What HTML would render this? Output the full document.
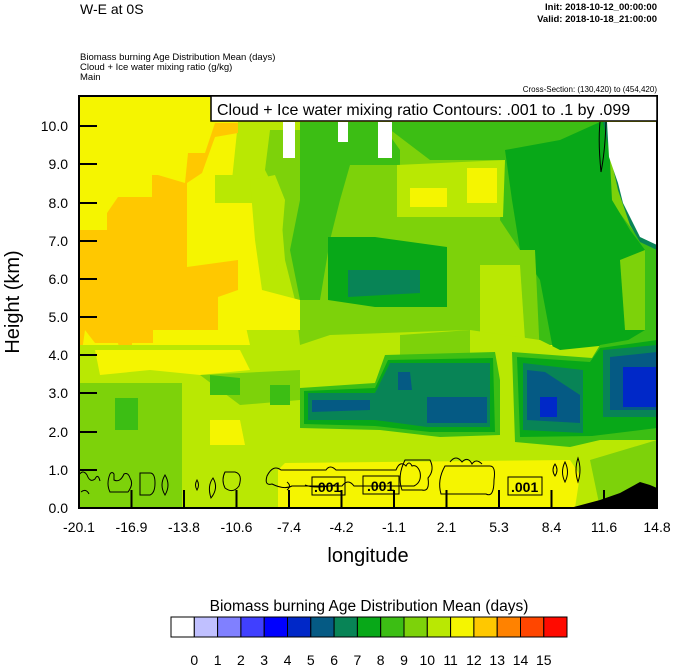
<!DOCTYPE html>
<html><head><meta charset="utf-8"><style>
body{margin:0;background:#fff;}
svg{display:block;font-family:"Liberation Sans",sans-serif;}
</style></head><body>
<svg width="674" height="667" viewBox="0 0 674 667" xmlns="http://www.w3.org/2000/svg">
<defs><clipPath id="pc"><rect x="79" y="96" width="578" height="412"/></clipPath></defs>
<text x="80" y="14" font-size="14">W-E at 0S</text>
<text x="657" y="10" font-size="9.5" text-anchor="end" font-weight="bold">Init: 2018-10-12_00:00:00</text>
<text x="657" y="22" font-size="9.5" text-anchor="end" font-weight="bold">Valid: 2018-10-18_21:00:00</text>
<text x="80" y="60" font-size="9.5">Biomass burning Age Distribution Mean    (days)</text>
<text x="80" y="70" font-size="9.5">Cloud + Ice water mixing ratio    (g/kg)</text>
<text x="80" y="80" font-size="9.5">Main</text>
<text x="657" y="92" font-size="8" text-anchor="end">Cross-Section: (130,420) to (454,420)</text>

<g clip-path="url(#pc)">
<rect x="79" y="96" width="578" height="412" fill="#f5f500"/>
<polygon fill="#b9e803" points="238,122 300,122 300,300 330,330 330,345 250,345 240,300 230,250 232,180" />
<polygon fill="#b9e803" points="215,175 235,175 235,230 215,230"/>
<polygon fill="#7dd20a" points="270,130 657,130 657,345 300,345 295,300 285,260 280,200 265,170"/>
<polygon fill="#f5f500" points="190,203 255,203 265,240 262,290 300,300 300,330 190,330"/>
<polygon fill="#b9e803" points="250,180 275,175 285,200 280,260 262,290 255,240"/>
<polygon fill="#ffc800" points="79,230 107,230 107,213 118,197 152,197 152,175 158,175 185,183 188,153 205,153 215,123 238,123 238,133 215,137 202,173 187,183 187,267 238,260 238,290 218,297 218,330 153,330 153,343 132,343 132,360 122,360 118,343 95,343 85,330 79,373"/>
<polygon fill="#3cbe14" points="300,122 380,122 400,150 400,165 350,165 340,200 330,240 320,300 300,300 290,250 300,200"/>
<polygon fill="#3cbe14" points="380,122 600,122 610,200 640,240 657,245 657,345 540,345 520,250 500,220 505,160 430,160"/>
<polygon fill="#b9e803" points="397,165 505,160 503,217 397,217"/>
<polygon fill="#f5f500" points="410,188 447,188 447,207 410,207"/>
<polygon fill="#f5f500" points="467,168 497,168 497,203 467,203"/>
<polygon fill="#08a818" points="505,150 560,140 600,122 608,122 612,200 630,230 645,250 645,330 620,345 600,390 570,420 555,360 540,280 520,250 512,200"/>
<polygon fill="#7dd20a" points="470,250 535,250 540,357 470,357"/>
<polygon fill="#b9e803" points="480,265 520,265 525,340 480,340"/>
<polygon fill="#7dd20a" points="620,260 645,250 645,330 625,330"/>
<polygon fill="#08a818" points="328,237 375,237 447,247 447,307 375,307 328,300"/>
<polygon fill="#088456" points="348,270 420,270 420,293 348,297"/>
<polygon fill="#ffffff" points="283,122 295,122 295,158 283,158"/>
<polygon fill="#ffffff" points="338,122 348,122 348,142 338,142"/>
<polygon fill="#ffffff" points="378,122 392,122 392,158 378,158"/>
<polygon fill="#088456" points="603,122 657,122 657,250 640,242 630,225 618,190"/>
<polygon fill="#ffffff" points="607,122 657,122 657,245 640,237 633,223 628,213 623,203 618,183 609,157"/>
<!-- lower band -->
<polygon fill="#b9e803" points="79,345 300,345 330,335 470,330 540,340 560,350 657,340 657,508 79,508"/>
<polygon fill="#7dd20a" points="400,335 470,330 470,360 400,360"/>
<polygon fill="#f5f500" points="95,350 240,350 250,370 200,375 150,370 100,375"/>
<polygon fill="#7dd20a" points="79,383 182,383 182,508 79,508"/>
<polygon fill="#7dd20a" points="200,375 300,370 300,400 240,405"/>
<polygon fill="#3cbe14" points="115,398 138,398 138,430 115,430"/>
<polygon fill="#3cbe14" points="210,375 240,378 240,395 210,395"/>
<polygon fill="#3cbe14" points="270,385 290,385 290,405 270,405"/>
<polygon fill="#f5f500" points="210,420 240,420 245,445 210,445"/>
<!-- blobs -->
<polygon fill="#3cbe14" points="300,388 375,383 385,355 495,352 500,380 500,435 440,437 380,430 300,428"/>
<polygon fill="#08a818" points="304,391 375,388 388,360 493,358 495,432 430,432 375,426 304,424"/>
<polygon fill="#088456" points="308,393 375,393 390,363 490,363 490,427 427,427 375,420 308,420"/>
<polygon fill="#055a84" points="312,400 370,400 370,410 312,412"/>
<polygon fill="#055a84" points="398,372 410,372 412,390 398,390"/>
<polygon fill="#055a84" points="427,397 487,397 487,423 427,423"/>
<polygon fill="#3cbe14" points="512,352 592,358 600,345 657,335 657,440 600,440 570,447 515,442"/>
<polygon fill="#08a818" points="517,357 590,362 600,348 657,340 657,428 592,436 520,437"/>
<polygon fill="#088456" points="523,363 583,370 583,433 523,430"/>
<polygon fill="#055a84" points="527,370 545,372 580,395 580,423 527,420"/>
<polygon fill="#0028c8" points="540,397 557,397 557,417 540,417"/>
<polygon fill="#088456" points="603,350 657,345 657,417 603,417"/>
<polygon fill="#055a84" points="610,357 657,352 657,410 610,410"/>
<polygon fill="#0028c8" points="623,367 657,367 657,407 623,407"/>
<!-- bottom -->
<polygon fill="#f5f500" points="278,470 285,463 570,460 580,475 575,508 278,508"/>
<polygon fill="#7dd20a" points="590,460 657,440 657,508 600,508"/>
<polygon fill="#000" points="570,508 600,500 620,493 640,482 650,485 657,488 657,508"/>
<g fill="none" stroke="#000" stroke-width="1">
<path d="M79,475 q4,-6 8,0 q3,8 8,4 q3,-6 5,2 M81,492 q5,-4 8,2"/>
<path d="M110,474 q2,-3 4,0 v6 q6,3 10,-6 q4,-2 6,4 q4,6 -2,14 h-18 q-4,-8 0,-18z"/>
<path d="M140,473 h10 q5,0 5,10 q0,10 -5,12 h-10z"/>
<path d="M165,475 q6,10 0,20 q-6,-10 0,-20z"/>
<path d="M197,480 q3,5 0,10 q-3,-5 0,-10z M213,478 q6,10 -2,20 q-4,-12 2,-20z"/>
<path d="M225,472 h10 q8,2 4,14 q-6,8 -14,2 q-4,-8 0,-16z"/>
<path d="M267,476 q6,-12 14,-6 h45 q4,-6 10,0 h60 q4,-10 10,-4 q3,-6 6,0 q5,-2 8,6 q2,10 -6,14 h-60 q-6,-8 -12,0 h-50 q-8,4 -20,-2 q-8,2 -5,-8z"/>
<path d="M287,482 q5,4 0,8 M305,485 q10,4 30,0"/>
<path d="M405,460 h25 q5,10 -2,18 q2,14 -6,12 h-20 q-5,-14 3,-30z"/>
<path d="M445,466 h45 q6,0 4,14 q0,18 -8,14 h-45 q-4,-14 4,-28z"/>
<path d="M450,462 q6,-8 12,0 q6,-6 10,2 q4,-6 10,0"/>
<path d="M555,464 q4,6 0,12 q-4,-6 0,-12z M565,462 q5,10 0,20 q-5,-10 0,-20z M578,458 q4,12 0,24 q-4,-12 0,-24z"/>
<path d="M600,122 q-2,20 1,50 q4,-20 5,-50"/>
</g>
<g font-size="14" font-weight="bold">
<rect x="312" y="477" width="33" height="18" fill="none" stroke="#000"/>
<text x="314" y="492">.001</text>
<rect x="363" y="476" width="36" height="18" fill="none" stroke="#000"/>
<text x="367" y="491">.001</text>
<rect x="508" y="477" width="34" height="18" fill="none" stroke="#000"/>
<text x="511" y="492">.001</text>
</g>
</g>
<rect x="79" y="96" width="578" height="412" fill="none" stroke="#000" stroke-width="2"/>
<rect x="211" y="96" width="446" height="25" fill="#fff" stroke="#000" stroke-width="1.5"/>
<text x="217" y="115" font-size="16">Cloud + Ice water mixing ratio Contours: .001 to .1 by .099</text>

<g stroke="#000" stroke-width="2">
<line x1="79" y1="470" x2="97" y2="470"/><line x1="79" y1="432" x2="97" y2="432"/><line x1="79" y1="393" x2="97" y2="393"/><line x1="79" y1="355" x2="97" y2="355"/><line x1="79" y1="317" x2="97" y2="317"/><line x1="79" y1="279" x2="97" y2="279"/><line x1="79" y1="241" x2="97" y2="241"/><line x1="79" y1="203" x2="97" y2="203"/><line x1="79" y1="164" x2="97" y2="164"/><line x1="79" y1="126" x2="97" y2="126"/>
<line x1="131.5" y1="508" x2="131.5" y2="490"/><line x1="184" y1="508" x2="184" y2="490"/><line x1="236.5" y1="508" x2="236.5" y2="490"/><line x1="289" y1="508" x2="289" y2="490"/><line x1="341.5" y1="508" x2="341.5" y2="490"/><line x1="394" y1="508" x2="394" y2="490"/><line x1="446.5" y1="508" x2="446.5" y2="490"/><line x1="499" y1="508" x2="499" y2="490"/><line x1="551.5" y1="508" x2="551.5" y2="490"/><line x1="604" y1="508" x2="604" y2="490"/>
</g>
<g font-size="14" text-anchor="end">
<text x="68" y="513">0.0</text><text x="68" y="475">1.0</text><text x="68" y="437">2.0</text><text x="68" y="398">3.0</text><text x="68" y="360">4.0</text><text x="68" y="322">5.0</text><text x="68" y="284">6.0</text><text x="68" y="246">7.0</text><text x="68" y="208">8.0</text><text x="68" y="169">9.0</text><text x="68" y="131">10.0</text>
</g>
<g font-size="14" text-anchor="middle">
<text x="79" y="532">-20.1</text><text x="131.5" y="532">-16.9</text><text x="184" y="532">-13.8</text><text x="236.5" y="532">-10.6</text><text x="289" y="532">-7.4</text><text x="341.5" y="532">-4.2</text><text x="394" y="532">-1.1</text><text x="446.5" y="532">2.1</text><text x="499" y="532">5.3</text><text x="551.5" y="532">8.4</text><text x="604" y="532">11.6</text><text x="657" y="532">14.8</text>
</g>
<text x="368" y="562" font-size="20" text-anchor="middle">longitude</text>
<text transform="translate(19,302) rotate(-90)" font-size="20" text-anchor="middle">Height (km)</text>

<text x="369" y="611" font-size="15.5" text-anchor="middle">Biomass burning Age Distribution Mean  (days)</text>
<g stroke="#000" stroke-width="1">
<rect x="171" y="617" width="23.3" height="20" fill="#ffffff"/>
<rect x="194.3" y="617" width="23.3" height="20" fill="#c0c0ff"/>
<rect x="217.6" y="617" width="23.3" height="20" fill="#8080ff"/>
<rect x="240.9" y="617" width="23.3" height="20" fill="#4040ff"/>
<rect x="264.2" y="617" width="23.3" height="20" fill="#0000ff"/>
<rect x="287.5" y="617" width="23.3" height="20" fill="#0028c8"/>
<rect x="310.8" y="617" width="23.3" height="20" fill="#055a84"/>
<rect x="334.1" y="617" width="23.3" height="20" fill="#088456"/>
<rect x="357.4" y="617" width="23.3" height="20" fill="#08a818"/>
<rect x="380.7" y="617" width="23.3" height="20" fill="#3cbe14"/>
<rect x="404" y="617" width="23.3" height="20" fill="#7dd20a"/>
<rect x="427.3" y="617" width="23.3" height="20" fill="#b9e803"/>
<rect x="450.6" y="617" width="23.3" height="20" fill="#f5f500"/>
<rect x="473.9" y="617" width="23.3" height="20" fill="#ffc800"/>
<rect x="497.2" y="617" width="23.3" height="20" fill="#ff8200"/>
<rect x="520.5" y="617" width="23.3" height="20" fill="#ff4600"/>
<rect x="543.8" y="617" width="23.2" height="20" fill="#ff0a00"/>
</g>
<g font-size="14" text-anchor="middle">
<text x="194.3" y="665">0</text><text x="217.6" y="665">1</text><text x="240.9" y="665">2</text><text x="264.2" y="665">3</text><text x="287.5" y="665">4</text><text x="310.8" y="665">5</text><text x="334.1" y="665">6</text><text x="357.4" y="665">7</text><text x="380.7" y="665">8</text><text x="404" y="665">9</text><text x="427.3" y="665">10</text><text x="450.6" y="665">11</text><text x="473.9" y="665">12</text><text x="497.2" y="665">13</text><text x="520.5" y="665">14</text><text x="543.8" y="665">15</text>
</g>
</svg>
</body></html>
